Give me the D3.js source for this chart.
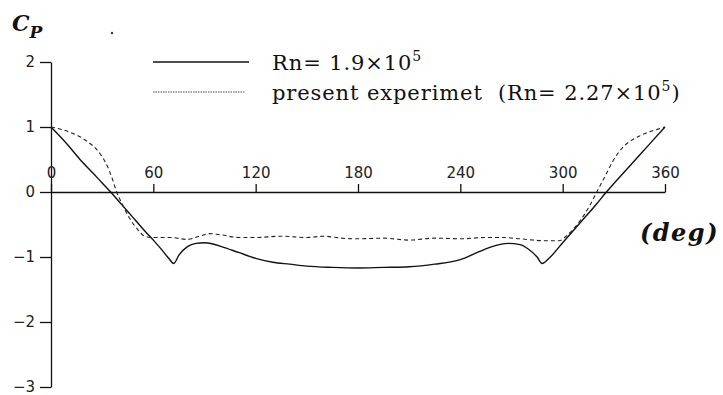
<!DOCTYPE html>
<html lang="en">
<head>
<meta charset="utf-8">
<title>Cp distribution</title>
<script src="https://d3js.org/d3.v7.min.js"></script>
<style>
  body { margin: 0; background: #fff; }
  .tick text { font-family: "DejaVu Sans", sans-serif; font-size: 15px; fill: #222; }
  .axis path, .axis line { stroke: #111; stroke-width: 1.3px; }
  .legend text { font-family: "DejaVu Serif", serif; font-size: 21px; letter-spacing: 0.9px; fill: #111; }
</style>
</head>
<body>
<div id="chart"></div>
<script>
// angle (deg) and Cp for the computed curve, Rn = 1.9e5
var calcDeg = [0, 10, 17, 25, 30, 35, 40, 45, 50, 55, 60, 65, 69, 72, 75, 80, 85, 90, 95, 100, 110, 120, 130, 140, 150, 165, 180,
  195, 210, 225, 240, 250, 260, 268, 275, 280, 285, 288, 292, 300, 310, 320, 325, 330, 340, 350, 360];
var calcCp = [1.0, 0.72, 0.5, 0.28, 0.14, 0.0, -0.15, -0.3, -0.45, -0.6, -0.74, -0.89, -1.02, -1.1, -0.97, -0.84, -0.79, -0.78, -0.8, -0.84, -0.93, -1.02, -1.08, -1.11, -1.14, -1.16, -1.17,
  -1.16, -1.15, -1.11, -1.04, -0.93, -0.83, -0.79, -0.81, -0.88, -1.0, -1.1, -1.02, -0.78, -0.48, -0.18, -0.02, 0.13, 0.42, 0.71, 1.0];

// present experiment, Rn = 2.27e5
var expDeg = [0, 10, 20, 29, 33, 36, 38.5, 42, 46, 50, 55, 60, 70, 80, 87, 93, 100, 110, 120, 135, 150, 160, 170, 180,
  195, 210, 225, 240, 255, 265, 275, 290, 298, 302, 310, 315, 320, 325, 330, 335, 340, 345, 350, 355, 360];
var expCp = [1.0, 0.93, 0.8, 0.58, 0.4, 0.2, 0.0, -0.2, -0.4, -0.55, -0.68, -0.7, -0.7, -0.73, -0.68, -0.64, -0.66, -0.7, -0.7, -0.68, -0.7, -0.68, -0.71, -0.72,
  -0.71, -0.74, -0.71, -0.72, -0.7, -0.7, -0.72, -0.75, -0.75, -0.68, -0.45, -0.25, 0.0, 0.25, 0.5, 0.68, 0.79, 0.86, 0.92, 0.96, 1.0];

var xTicks = [0, 60, 120, 180, 240, 300, 360];
var yTicks = [2, 1, 0, -1, -2, -3];

var width = 723, height = 395;
var svg = d3.select("#chart").append("svg")
  .attr("width", width)
  .attr("height", height);

var x = d3.scaleLinear().domain([0, 360]).range([51, 665]);
var y = d3.scaleLinear().domain([-3, 2]).range([387, 62]);

// y axis on the left
svg.append("g")
  .attr("class", "axis")
  .attr("transform", "translate(" + x(0) + ",0)")
  .call(d3.axisLeft(y).tickValues(yTicks).tickSize(11).tickPadding(5).tickSizeOuter(0)
    .tickFormat(function(d) { return d < 0 ? "\u2212" + (-d) : d; }));

// x axis along Cp = 0, ticks pointing up, labels above
svg.append("g")
  .attr("class", "axis")
  .attr("transform", "translate(0," + y(0) + ")")
  .call(d3.axisTop(x).tickValues(xTicks).tickSize(8).tickPadding(6).tickSizeOuter(0));

svg.selectAll(".axis .domain").attr("stroke", "#111");

var line = d3.line()
  .x(function(d) { return x(d[0]); })
  .y(function(d) { return y(d[1]); })
  .curve(d3.curveMonotoneX);

svg.append("path")
  .datum(d3.zip(calcDeg, calcCp))
  .attr("d", line)
  .attr("fill", "none")
  .attr("stroke", "#111")
  .attr("stroke-width", 1.4);

svg.append("path")
  .datum(d3.zip(expDeg, expCp))
  .attr("d", line)
  .attr("fill", "none")
  .attr("stroke", "#222")
  .attr("stroke-width", 1.1)
  .attr("stroke-dasharray", "4,3");

// axis titles
var cp = svg.append("text")
  .attr("x", 12).attr("y", 31)
  .attr("font-family", "DejaVu Serif, serif")
  .attr("font-style", "italic").attr("font-weight", "bold")
  .attr("font-size", 22).attr("fill", "#111");
cp.append("tspan").text("C");
cp.append("tspan").attr("font-size", 17).attr("dy", 7).text("P");

svg.append("text")
  .attr("x", 719).attr("y", 241)
  .attr("text-anchor", "end")
  .attr("font-family", "DejaVu Serif, serif")
  .attr("font-style", "italic").attr("font-weight", "bold")
  .attr("font-size", 24).attr("letter-spacing", 1.5).attr("fill", "#111")
  .text("(deg)");

// stray speck from the scan
svg.append("circle").attr("cx", 112).attr("cy", 33).attr("r", 1.2).attr("fill", "#333");

// legend
var lg = svg.append("g").attr("class", "legend");
lg.append("line").attr("x1", 153).attr("x2", 249).attr("y1", 62).attr("y2", 62)
  .attr("stroke", "#111").attr("stroke-width", 1.5);
lg.append("line").attr("x1", 153).attr("x2", 245).attr("y1", 92).attr("y2", 92)
  .attr("stroke", "#444").attr("stroke-width", 1).attr("stroke-dasharray", "1.5,1");

var t1 = lg.append("text").attr("x", 272).attr("y", 70);
t1.append("tspan").text("Rn= 1.9\u00d710");
t1.append("tspan").attr("font-size", 14).attr("dy", -9).text("5");

var t2 = lg.append("text").attr("x", 272).attr("y", 100).attr("xml:space", "preserve");
t2.append("tspan").text("present experimet  (Rn= 2.27\u00d710");
t2.append("tspan").attr("font-size", 14).attr("dy", -9).text("5");
t2.append("tspan").attr("dy", 9).text(")");
</script>
</body>
</html>
